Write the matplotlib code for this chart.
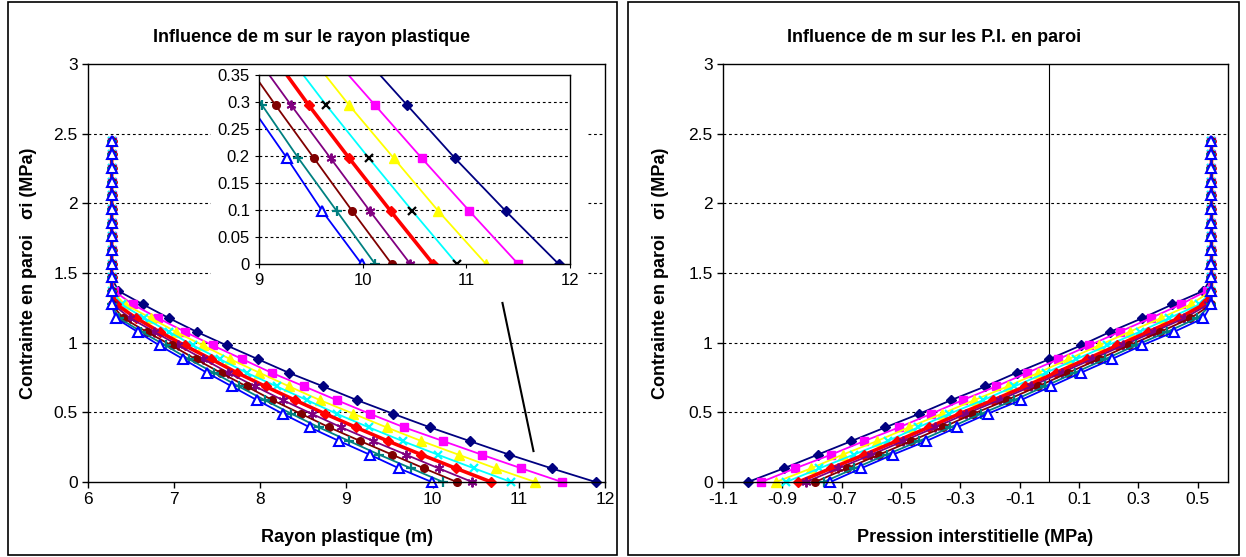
import matplotlib.pyplot as plt
from matplotlib.patches import Rectangle

plt.rcParams['font.family'] = ['Liberation Sans', 'DejaVu Sans']

# contrainte en paroi sigma_i (MPa), pas de 0.098
sigma = [0.0, 0.098, 0.196, 0.294, 0.392, 0.49, 0.588, 0.686, 0.784, 0.882, 0.98, 1.078, 1.176,
         1.274, 1.372, 1.47, 1.568, 1.666, 1.764, 1.862, 1.96, 2.058, 2.156, 2.254, 2.352, 2.45]

# rayon du tunnel (m) et pression interstitielle hors zone plastique (MPa)
R = 6.275
V = 0.546

# rayon plastique (m) pour chaque valeur de m
rayon_1 = [11.89, 11.38, 10.89, 10.43, 9.97, 9.54, 9.12, 8.73, 8.33, 7.97, 7.61, 7.26, 6.94, 6.64, 6.35,
           R, R, R, R, R, R, R, R, R, R, R]
rayon_2 = [11.50, 11.03, 10.57, 10.12, 9.67, 9.27, 8.885, 8.51, 8.13, 7.79, 7.45, 7.125, 6.815, 6.52, 6.30,
           R, R, R, R, R, R, R, R, R, R, R]
rayon_3 = [11.19, 10.73, 10.30, 9.87, 9.465, 9.08, 8.69, 8.335, 7.99, 7.65, 7.335, 7.02, 6.73, 6.43,
           R, R, R, R, R, R, R, R, R, R, R, R]
rayon_4 = [10.91, 10.48, 10.06, 9.65, 9.26, 8.885, 8.54, 8.19, 7.84, 7.53, 7.22, 6.94, 6.655, 6.39,
           R, R, R, R, R, R, R, R, R, R, R, R]
rayon_5 = [10.68, 10.27, 9.87, 9.48, 9.11, 8.75, 8.40, 8.06, 7.73, 7.43, 7.12, 6.83, 6.56, 6.33,
           R, R, R, R, R, R, R, R, R, R, R, R]
rayon_6 = [10.46, 10.07, 9.69, 9.31, 8.94, 8.595, 8.26, 7.94, 7.63, 7.34, 7.05, 6.77, 6.49, 6.29,
           R, R, R, R, R, R, R, R, R, R, R, R]
rayon_7 = [10.28, 9.90, 9.53, 9.16, 8.80, 8.47, 8.14, 7.84, 7.54, 7.25, 6.97, 6.68, 6.41,
           R, R, R, R, R, R, R, R, R, R, R, R, R]
rayon_8 = [10.12, 9.75, 9.38, 9.03, 8.68, 8.36, 8.05, 7.75, 7.46, 7.17, 6.90, 6.62, 6.36,
           R, R, R, R, R, R, R, R, R, R, R, R, R]
rayon_9 = [9.99, 9.61, 9.27, 8.915, 8.575, 8.26, 7.96, 7.67, 7.38, 7.105, 6.83, 6.575, 6.32,
           R, R, R, R, R, R, R, R, R, R, R, R, R]

# pression interstitielle en paroi (MPa)
pi_1 = [-1.016, -0.895, -0.781, -0.667, -0.553, -0.438, -0.331, -0.216, -0.111, 0.0, 0.106, 0.205, 0.313,
        0.414, 0.519, V, V, V, V, V, V, V, V, V, V, V]
pi_2 = [-0.971, -0.857, -0.736, -0.624, -0.507, -0.398, -0.292, -0.180, -0.074, 0.030, 0.134, 0.237, 0.341,
        0.442, 0.530, V, V, V, V, V, V, V, V, V, V, V]
pi_3 = [-0.921, -0.803, -0.697, -0.581, -0.474, -0.362, -0.253, -0.141, -0.037, 0.064, 0.167, 0.270, 0.375,
        0.476, V, V, V, V, V, V, V, V, V, V, V, V]
pi_4 = [-0.887, -0.775, -0.660, -0.545, -0.443, -0.337, -0.223, -0.118, -0.012, 0.091, 0.195, 0.304, 0.403,
        0.505, V, V, V, V, V, V, V, V, V, V, V, V]
pi_5 = [-0.846, -0.736, -0.624, -0.515, -0.407, -0.303, -0.189, -0.082, 0.021, 0.125, 0.229, 0.333, 0.436,
        0.520, V, V, V, V, V, V, V, V, V, V, V, V]
pi_6 = [-0.820, -0.711, -0.600, -0.492, -0.385, -0.281, -0.168, -0.062, 0.041, 0.144, 0.248, 0.352, 0.455,
        0.535, V, V, V, V, V, V, V, V, V, V, V, V]
pi_7 = [-0.790, -0.683, -0.574, -0.466, -0.360, -0.256, -0.144, -0.039, 0.063, 0.166, 0.268, 0.374, 0.475,
        V, V, V, V, V, V, V, V, V, V, V, V, V]
pi_8 = [-0.761, -0.657, -0.549, -0.439, -0.334, -0.230, -0.119, -0.016, 0.085, 0.188, 0.290, 0.397, 0.498,
        V, V, V, V, V, V, V, V, V, V, V, V, V]
pi_9 = [-0.738, -0.635, -0.528, -0.415, -0.312, -0.208, -0.096, 0.005, 0.106, 0.210, 0.311, 0.420, 0.519,
        V, V, V, V, V, V, V, V, V, V, V, V, V]

rayons = [rayon_1, rayon_2, rayon_3, rayon_4, rayon_5, rayon_6, rayon_7, rayon_8, rayon_9]
pressions = [pi_1, pi_2, pi_3, pi_4, pi_5, pi_6, pi_7, pi_8, pi_9]

# graduations
y_ticks = [0, 0.5, 1, 1.5, 2, 2.5, 3]
y_labels = ['0', '0.5', '1', '1.5', '2', '2.5', '3']
x_ticks_rayon = [6, 7, 8, 9, 10, 11, 12]
x_labels_rayon = ['6', '7', '8', '9', '10', '11', '12']
x_ticks_pi = [-1.1, -0.9, -0.7, -0.5, -0.3, -0.1, 0.1, 0.3, 0.5]
x_labels_pi = ['-1.1', '-0.9', '-0.7', '-0.5', '-0.3', '-0.1', '0.1', '0.3', '0.5']
y_ticks_zoom = [0, 0.05, 0.1, 0.15, 0.2, 0.25, 0.3, 0.35]
y_labels_zoom = ['0', '0.05', '0.1', '0.15', '0.2', '0.25', '0.3', '0.35']
x_ticks_zoom = [9, 10, 11, 12]
x_labels_zoom = ['9', '10', '11', '12']

# styles type Excel
styles = [
    dict(color='#000080', marker='D', ms=5, lw=1.3),
    dict(color='#FF00FF', marker='s', ms=5.5, lw=1.3),
    dict(color='#FFFF00', marker='^', ms=6.5, lw=1.3),
    dict(color='#00FFFF', marker='x', ms=6, mew=1.6, lw=1.3),
    dict(color='#FF0000', marker='D', ms=5.5, lw=2.6),
    dict(color='#800080', marker=(6, 2, 0), ms=7, mew=1.4, lw=1.3),
    dict(color='#800000', marker='o', ms=5.5, lw=1.3),
    dict(color='#008080', marker='+', ms=7, mew=1.6, lw=1.3),
    dict(color='#0000FF', marker='^', ms=6.5, mfc='white', mew=1.5, lw=1.3),
]

W, H = 1246, 557
fig = plt.figure(figsize=(W / 100, H / 100), dpi=100)


def px_box(x0, y0, x1, y1):
    # rectangle en pixels (origine en haut a gauche) -> fraction de figure
    return [x0 / W, 1 - y1 / H, (x1 - x0) / W, (y1 - y0) / H]


def habillage(ax):
    for s in ax.spines.values():
        s.set_color('black')
        s.set_linewidth(1)
    ax.set_yticks(y_ticks)
    ax.set_yticklabels(y_labels)
    ax.set_ylim(0, 3)
    ax.tick_params(direction='out', length=4, labelsize=12.5, width=1)
    for yv in y_ticks[1:-1]:
        ax.axhline(yv, color='black', lw=0.8, ls=(0, (2.5, 2.5)), zorder=0.5)


# cadres des deux graphiques
for (x0, x1) in [(8, 617), (628, 1239)]:
    fig.add_artist(Rectangle((x0 / W, 1 - 555 / H), (x1 - x0) / W, 553 / H,
                             transform=fig.transFigure, fill=False, ec='black', lw=1.2))

# Graphique 1: rayon plastique
ax1 = fig.add_axes(px_box(88, 64, 605, 482))
habillage(ax1)
for x, st in zip(rayons, styles):
    ax1.plot(x, sigma, clip_on=False, **st)
ax1.set_xlim(6, 12)
ax1.set_xticks(x_ticks_rayon)
ax1.set_xticklabels(x_labels_rayon)
ax1.set_xlabel('Rayon plastique (m)', fontsize=13, fontweight='bold')
ax1.xaxis.set_label_coords(0.501, -0.112)
ax1.set_ylabel('Contrainte en paroi   σi (MPa)', fontsize=13, fontweight='bold')
ax1.yaxis.set_label_coords(-0.099, 0.5)
ax1.plot([10.81, 11.17], [1.285, 0.222], color='black', lw=1.5, clip_on=False)

# fond blanc du zoom
fig.add_artist(Rectangle((211 / W, 1 - 297 / H), (586 - 211) / W, (297 - 66) / H,
                         transform=fig.transFigure, fc='white', ec='none', zorder=1))

# zoom sur le bas des courbes
axz = fig.add_axes(px_box(259, 75, 570, 264), zorder=2)
for s in axz.spines.values():
    s.set_color('black')
    s.set_linewidth(1)
for x, st in zip(rayons, styles):
    st2 = dict(st)
    if st2['marker'] == 'x':
        st2['mec'] = 'black'
    axz.plot(x, sigma, **st2)
axz.set_xlim(9, 12)
axz.set_ylim(0, 0.35)
axz.set_xticks(x_ticks_zoom)
axz.set_xticklabels(x_labels_zoom)
axz.set_yticks(y_ticks_zoom)
axz.set_yticklabels(y_labels_zoom)
axz.tick_params(direction='out', length=3, labelsize=12)
for yv in y_ticks_zoom[1:-1]:
    axz.axhline(yv, color='black', lw=0.8, ls=(0, (2.5, 2.5)), zorder=0.5)

# Graphique 2: pression interstitielle
ax2 = fig.add_axes(px_box(723, 64, 1227.5, 482))
habillage(ax2)
ax2.axvline(0, color='black', lw=0.8, zorder=0.6)
for x, st in zip(pressions, styles):
    ax2.plot(x, sigma, clip_on=False, **st)
ax2.set_xlim(-1.1, 0.6)
ax2.set_xticks(x_ticks_pi)
ax2.set_xticklabels(x_labels_pi)
ax2.set_xlabel('Pression interstitielle (MPa)', fontsize=13, fontweight='bold')
ax2.xaxis.set_label_coords(0.5, -0.112)
ax2.set_ylabel('Contrainte en paroi   σi (MPa)', fontsize=13, fontweight='bold')
ax2.yaxis.set_label_coords(-0.107, 0.5)

fig.text(312 / W, 1 - 37 / H, 'Influence de m sur le rayon plastique',
         ha='center', va='center', fontsize=13, fontweight='bold')
fig.text(934 / W, 1 - 37 / H, 'Influence de m sur les P.I. en paroi',
         ha='center', va='center', fontsize=13, fontweight='bold')

fig.savefig('out.png', dpi=100)
